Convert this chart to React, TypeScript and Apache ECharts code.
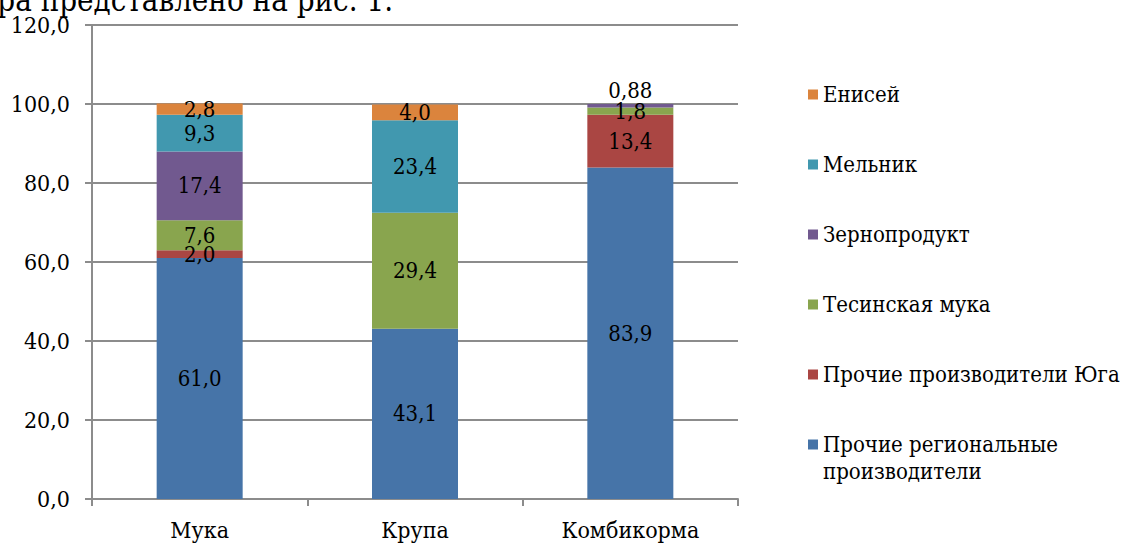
import React, { useEffect, useRef } from "react";
import * as echarts from "echarts";

const categories = ["Мука", "Крупа", "Комбикорма"];
const seriesNames = [
  "Прочие региональные производители",
  "Прочие производители Юга",
  "Тесинская мука",
  "Зернопродукт",
  "Мельник",
  "Енисей",
];
const regional = [61.0, 43.1, 83.9];
const south = [2.0, null, 13.4];
const tesinskaya = [7.6, 29.4, 1.8];
const zernoprodukt = [17.4, null, 0.88];
const melnik = [9.3, 23.4, null];
const enisey = [2.8, 4.0, null];
const yTicks = { min: 0, max: 120, interval: 20 };

const colors = ["#4674A8", "#AA4643", "#89A54E", "#71598F", "#4198AF", "#DB843D"];
const seriesData = [regional, south, tesinskaya, zernoprodukt, melnik, enisey];

const FONT = "DejaVu Serif Condensed, DejaVu Serif";
const fmt = (v: number) =>
  (Math.abs(Math.round(v * 10) - v * 10) < 1e-9 ? v.toFixed(1) : String(v)).replace(".", ",");

export default function App() {
  const ref = useRef<HTMLDivElement>(null);
  useEffect(() => {
    const chart = echarts.init(ref.current!, null, { renderer: "svg" });
    const legendCenters = [444, 374, 304, 234, 164, 94];
    const legends = seriesNames.map((name, i) => {
      const last = i === 0;
      return {
        show: true,
        orient: "vertical",
        left: 808,
        top: last ? legendCenters[i] - 40 : legendCenters[i] - 13,
        padding: 0,
        itemWidth: 10,
        itemHeight: 10,
        selectedMode: false,
        icon: "rect",
        data: [name],
        formatter: last ? () => "\u00a0\nПрочие региональные\nпроизводители" : undefined,
        textStyle: { fontFamily: FONT, fontSize: 22, color: "#000", lineHeight: 27 },
      };
    });
    const gridColor = "#8c8c8c";
    chart.setOption({
      animation: false,
      color: colors,
      legend: legends,
      grid: { left: 92, right: 383, top: 25, bottom: 44, containLabel: false },
      xAxis: {
        type: "category",
        data: categories,
        axisLine: { show: true, lineStyle: { color: gridColor, width: 2 } },
        axisTick: { show: true, length: 7, alignWithLabel: false, lineStyle: { color: gridColor, width: 2 } },
        axisLabel: { fontFamily: FONT, fontSize: 23, color: "#000", margin: 19 },
      },
      yAxis: {
        type: "value",
        min: yTicks.min,
        max: yTicks.max,
        interval: yTicks.interval,
        axisLine: { show: true, lineStyle: { color: gridColor, width: 2 } },
        axisTick: { show: true, length: 7, lineStyle: { color: gridColor, width: 2 } },
        splitLine: { show: true, lineStyle: { color: gridColor, width: 2 } },
        axisLabel: {
          fontFamily: FONT,
          fontSize: 23,
          color: "#000",
          margin: 22,
          formatter: (v: number) => v.toFixed(1).replace(".", ","),
        },
      },
      series: seriesNames.map((name, i) => ({
        name,
        type: "bar",
        stack: "total",
        barWidth: 86,
        itemStyle: { color: colors[i] },
        label: {
          show: true,
          position: "inside",
          fontFamily: FONT,
          fontSize: 22,
          color: "#000",
          formatter: (p: any) => fmt(p.value),
        },
        data: seriesData[i].map((v, j) =>
          name === "Зернопродукт" && j === 2
            ? { value: v, label: { offset: [0, -15] } }
            : v
        ),
      })),
      graphic: [
        {
          type: "text",
          x: 393,
          y: 0,
          style: {
            text: "ра представлено на рис. 1.",
            fontFamily: FONT,
            fontSize: 31,
            fill: "#000",
            align: "right",
            verticalAlign: "middle",
          },
        },
      ],
    });
    return () => chart.dispose();
  }, []);
  return (
    <div
      ref={ref}
      style={{ position: "fixed", left: 0, top: 0, width: 1121, height: 543, background: "#fff" }}
    />
  );
}
